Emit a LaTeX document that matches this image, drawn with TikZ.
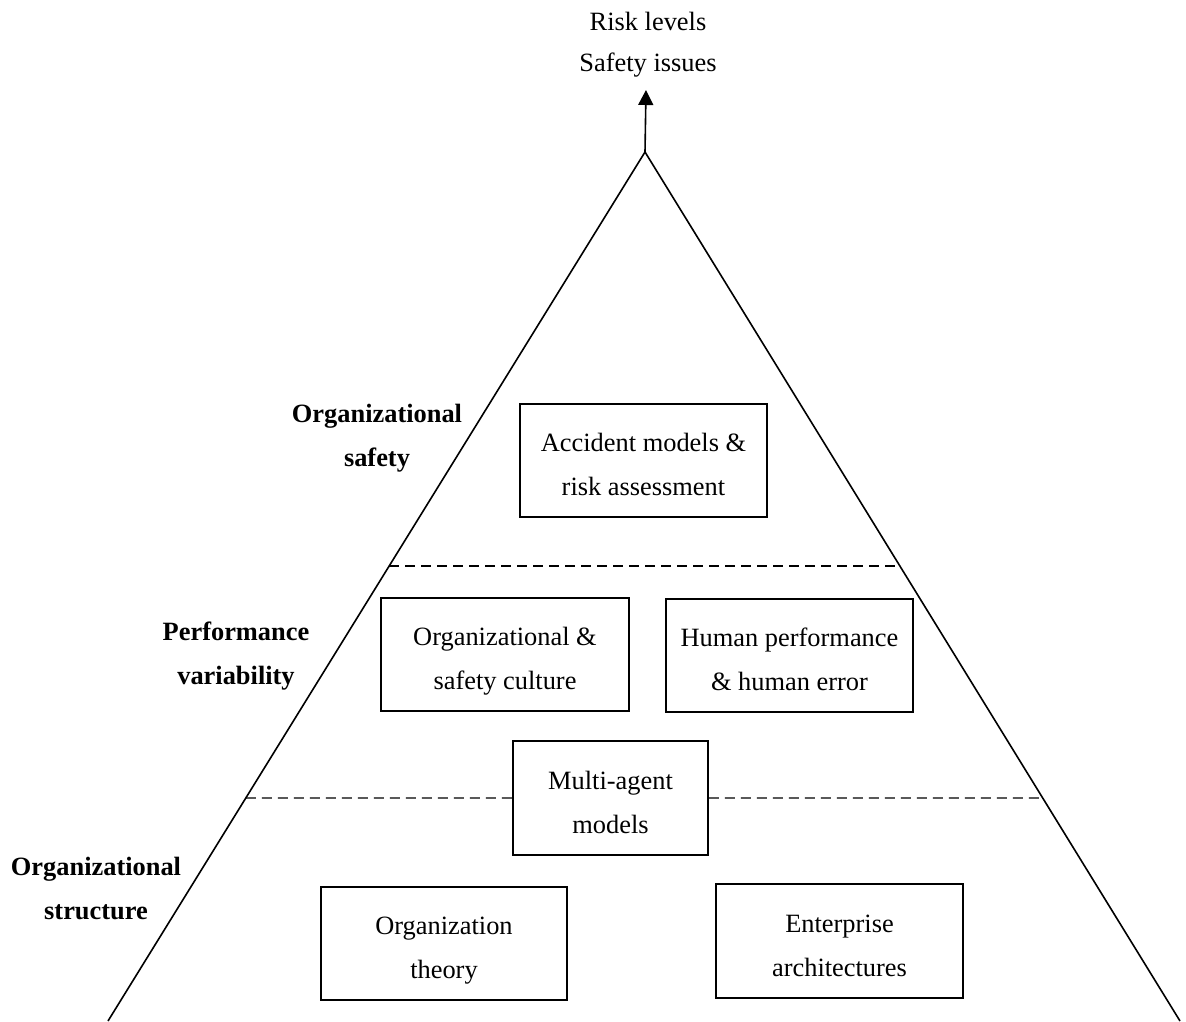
\documentclass[tikz,border=0pt]{standalone}
\usepackage{fontspec}
\setmainfont{Liberation Serif}
\usetikzlibrary{arrows.meta,calc}
% two centred lines whose reference point is the first baseline
\newcommand{\twoline}[2]{\begin{tabular}[t]{@{}c@{}}#1\\#2\end{tabular}}
\begin{document}
\begin{tikzpicture}[x=1pt,y=-1pt,
  every node/.style={inner sep=0pt},
  edge line/.style={line width=1.6pt},
  level sep/.style={line width=1.4pt, dash pattern=on 10pt off 6pt},
  topic/.style={draw, line width=1.6pt, minimum width=247pt, minimum height=113pt,
    text height=0pt, text depth=18pt, font=\fontsize{26.4}{44}\selectfont},
  layer label/.style={anchor=base, font=\fontsize{26.4}{44}\selectfont\bfseries}]
\useasboundingbox (0,0) rectangle (1186,1021);

% pyramid outline
\coordinate (apex) at (645,152);
\coordinate (bl) at (108,1021);
\coordinate (br) at (1180,1021);
\coordinate (tip) at (646,90);
\draw[edge line] (bl) -- (apex) -- (br);
\draw[edge line, -{Triangle[length=15pt,width=15pt]}] (apex) -- (tip);

% outcome text above the apex
\node[anchor=base, font=\fontsize{26.4}{41}\selectfont] (outcome) at (648,30)
  {\twoline{Risk levels}{Safety issues}};

% topic boxes
\node[topic] (acc) at (643.5,460.5) {\twoline{Accident models \&}{risk assessment}};
\node[topic, minimum width=248pt] (cult) at (505,654.5) {\twoline{Organizational \&}{safety culture}};
\node[topic] (hum) at (789.5,655.5) {\twoline{Human performance}{\& human error}};
\node[topic, minimum width=195pt, minimum height=114pt] (mas) at (610.5,798) {\twoline{Multi-agent}{models}};
\node[topic, minimum width=246pt] (orgth) at (444,943.5) {\twoline{Organization}{theory}};
\node[topic, minimum height=114pt] (ent) at (839.5,941) {\twoline{Enterprise}{architectures}};

% layer separators
\coordinate (s1l) at ($(apex)!0.4764!(bl)$);
\coordinate (s1r) at ($(apex)!0.4764!(br)$);
\coordinate (s2l) at ($(apex)!0.7434!(bl)$);
\coordinate (s2r) at ($(apex)!0.7434!(br)$);
\draw[level sep] (s1l) -- (s1r);
\draw[level sep] (s2l) -- (mas.west);
\draw[level sep] (mas.east) -- (s2r);

% layer names
\node[layer label] (lsafety) at (377,422) {\twoline{Organizational}{safety}};
\node[layer label] (lperf) at (236,640) {\twoline{Performance}{variability}};
\node[layer label] (lstruct) at (96,875) {\twoline{Organizational}{structure}};
\end{tikzpicture}
\end{document}
